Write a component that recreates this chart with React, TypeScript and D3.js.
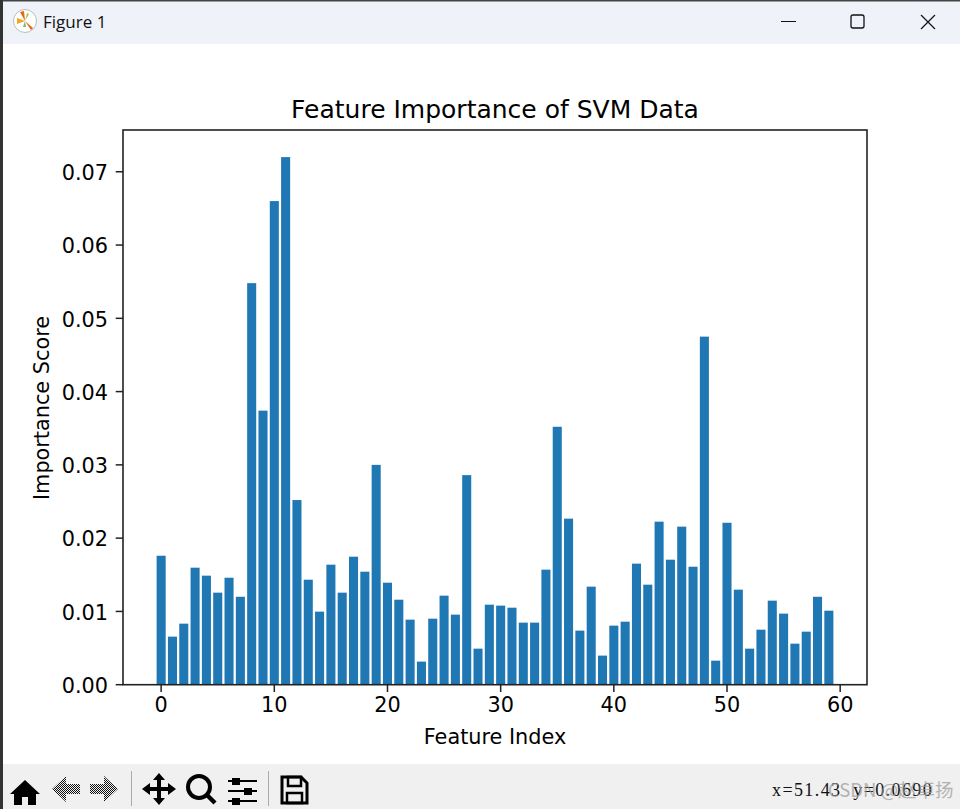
import React from "react";
import * as d3 from "d3";

const scores = [
  0.0176, 0.00656, 0.00833, 0.01597, 0.01488, 0.01256, 0.0146, 0.012, 0.0548, 0.0374,
  0.066, 0.072, 0.0252, 0.01433, 0.00997, 0.01638, 0.01256, 0.01747, 0.01542, 0.03,
  0.01392, 0.0116, 0.00888, 0.00315, 0.00901, 0.01215, 0.00956, 0.0286, 0.00492, 0.01092,
  0.01079, 0.01051, 0.00847, 0.00847, 0.0157, 0.0352, 0.02266, 0.00738, 0.01338, 0.00397,
  0.00806, 0.0086, 0.01652, 0.01365, 0.02225, 0.01706, 0.02157, 0.0161, 0.0475, 0.00328,
  0.0221, 0.01297, 0.00492, 0.00751, 0.01147, 0.0097, 0.0056, 0.00724, 0.012, 0.0101,
];
const xTicks = [0, 10, 20, 30, 40, 50, 60];
const yTicks = [0, 0.01, 0.02, 0.03, 0.04, 0.05, 0.06, 0.07];
const titleText = "Feature Importance of SVM Data";
const xLabel = "Feature Index";
const yLabel = "Importance Score";
const windowTitle = "Figure 1";
const statusText = "x=51.43  y=0.0690";
const watermark = "CSDN @\u8d75\u5353\u626c";

const FONT = "'DejaVu Sans', sans-serif";
const AX = { l: 123, r: 867, t: 130, b: 684.7 };

export default function App() {
  const x = d3.scaleLinear().domain([-3.37, 62.37]).range([AX.l, AX.r]);
  const y = d3.scaleLinear().domain([0, 0.0757]).range([AX.b, AX.t]);
  const bw = x(0.8) - x(0);
  return (
    <svg width={960} height={809} style={{ position: "absolute", left: 0, top: 0, background: "#fff" }}>
      <defs>
        <pattern id="dither" width={2} height={2} patternUnits="userSpaceOnUse">
          <rect width={2} height={2} fill="#f0f0f0" />
          <rect width={1} height={1} fill="#111" />
          <rect x={1} y={1} width={1} height={1} fill="#111" />
        </pattern>
      </defs>
      {/* window chrome */}
      <rect x={0} y={0} width={960} height={809} fill="#fff" />
      <rect x={0} y={0} width={960} height={44} fill="#eff3f9" />
      <rect x={0} y={764} width={960} height={45} fill="#f0f0f0" />
      <rect x={0} y={0} width={960} height={1.5} fill="#444" />
      <rect x={0} y={0} width={3} height={809} fill="#333" />
      <g transform="translate(25,21)">
        <circle r={11.5} fill="#fff" stroke="#bbb" />
        <path d="M0,0 L-5,-9 L-1,-10 Z" fill="#e8651a" />
        <path d="M0,0 L-8,-3 L-8,3 Z" fill="#f0a818" />
        <path d="M0,0 L8,7 L6,9 Z" fill="#e8651a" />
        <path d="M0,0 L4,-7 L2,-8 Z" fill="#9ccc3c" />
        <path d="M0,0 L1,6 L-2,6 Z" fill="#6cc070" />
      </g>
      <text x={43} y={28} fontFamily="'Open Sans', sans-serif" fontSize={17} fill="#111">{windowTitle}</text>
      <path d="M781,21.5 H796" stroke="#111" strokeWidth={1} />
      <rect x={851} y={15} width={13} height={13} rx={2} fill="none" stroke="#111" strokeWidth={1.3} />
      <path d="M921,15 L935,29 M935,15 L921,29" stroke="#111" strokeWidth={1.2} />

      {/* bars */}
      {scores.map((v, i) => (
        <rect key={i} x={x(i - 0.4)} y={y(v)} width={bw} height={y(0) - y(v)} fill="#1f77b4" />
      ))}

      {/* axes */}
      <rect x={AX.l} y={AX.t} width={AX.r - AX.l} height={AX.b - AX.t} fill="none" stroke="#222" strokeWidth={1.6} />
      {xTicks.map((t) => (
        <g key={t}>
          <line x1={x(t)} x2={x(t)} y1={AX.b} y2={AX.b + 7.3} stroke="#222" strokeWidth={1.5} />
          <text x={x(t)} y={AX.b + 27} textAnchor="middle" fontFamily={FONT} fontSize={20.8} fill="#000">{t}</text>
        </g>
      ))}
      {yTicks.map((t) => (
        <g key={t}>
          <line x1={AX.l - 7.3} x2={AX.l} y1={y(t)} y2={y(t)} stroke="#222" strokeWidth={1.5} />
          <text x={AX.l - 15} y={y(t) + 8.2} textAnchor="end" fontFamily={FONT} fontSize={20.8} fill="#000">{t.toFixed(2)}</text>
        </g>
      ))}
      <text x={495} y={118} textAnchor="middle" fontFamily={FONT} fontSize={25} fill="#000">{titleText}</text>
      <text x={495} y={744} textAnchor="middle" fontFamily={FONT} fontSize={20.8} fill="#000">{xLabel}</text>
      <text transform="translate(49,408) rotate(-90)" textAnchor="middle" fontFamily={FONT} fontSize={20.8} fill="#000">{yLabel}</text>

      {/* toolbar */}
      <path d="M25,780 L10,794 L14,794 L14,805 L22,805 L22,797 L28,797 L28,805 L36,805 L36,794 L40,794 Z" fill="#000" />
      <path d="M52,789 L66,776 L66,784 L80,784 L80,794 L66,794 L66,802 Z" fill="url(#dither)" />
      <path d="M118,789 L104,776 L104,784 L90,784 L90,794 L104,794 L104,802 Z" fill="url(#dither)" />
      <line x1={131.5} y1={771} x2={131.5} y2={806} stroke="#aaa" />
      <path d="M159,773 L165,780 L161,780 L161,787 L168,787 L168,783 L176,789 L168,795 L168,791 L161,791 L161,798 L165,798 L159,805 L153,798 L157,798 L157,791 L150,791 L150,795 L142,789 L150,783 L150,787 L157,787 L157,780 L153,780 Z" fill="#000" />
      <circle cx={199} cy={787} r={11} fill="none" stroke="#000" strokeWidth={4} />
      <line x1={207} y1={795} x2={215} y2={803} stroke="#000" strokeWidth={4.5} />
      <g stroke="#000" strokeWidth={2}>
        <line x1={228} x2={257} y1={781} y2={781} />
        <line x1={228} x2={257} y1={791} y2={791} />
        <line x1={228} x2={257} y1={801} y2={801} />
      </g>
      <rect x={232} y={778} width={8} height={7} fill="#000" />
      <rect x={244} y={788} width={8} height={7} fill="#000" />
      <rect x={232} y={798} width={8} height={7} fill="#000" />
      <line x1={268.5} y1={771} x2={268.5} y2={806} stroke="#aaa" />
      <path d="M282,777 H301 L307,783 V803 H282 Z" fill="none" stroke="#000" strokeWidth={3} />
      <rect x={288} y={777} width={13} height={9} fill="none" stroke="#000" strokeWidth={2.5} />
      <rect x={287} y={793} width={15} height={10} fill="none" stroke="#000" strokeWidth={2.5} />
      <text x={772} y={796} fontFamily="'Liberation Serif', serif" fontSize={18} fill="#111" letterSpacing={1.4} xmlSpace="preserve">{statusText}</text>
      <text x={828} y={797} fontFamily="'Noto Sans CJK SC', sans-serif" fontSize={18.5} fill="#999" opacity={0.7}>{watermark}</text>
    </svg>
  );
}
